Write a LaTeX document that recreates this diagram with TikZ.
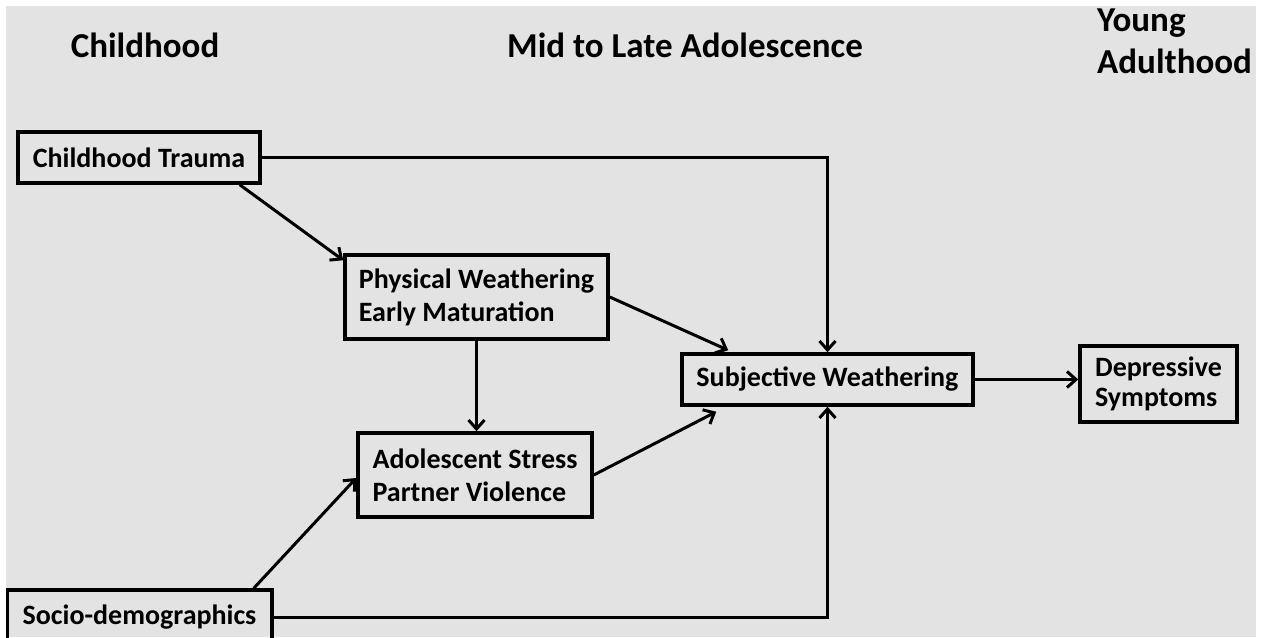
\documentclass[tikz,border=0pt]{standalone}
\usepackage{fontspec}
\setmainfont{Carlito}
\usetikzlibrary{arrows.meta}
\definecolor{bg}{HTML}{E3E3E3}
\begin{document}
\begin{tikzpicture}[x=1pt,y=-1pt,
  box/.style={draw=black,line width=3.5pt,inner sep=0pt,align=left,
    font=\bfseries\fontsize{28}{33}\selectfont},
  head/.style={font=\bfseries\fontsize{35}{42}\selectfont,inner sep=0pt},
  conn/.style={line width=3pt,-{Straight Barb[length=9pt,width=16pt,line width=3pt]}},
  plain/.style={line width=3pt}]
\useasboundingbox (0,0) rectangle (1265,637);
\fill[white] (0,0) rectangle (1265,637);
\fill[bg] (6,6) rectangle (1256,637);
\begin{scope}
\clip (6,6) rectangle (1256,637);
\node[head] (h1) at (145,45) {Childhood};
\node[head] (h2) at (685,45) {Mid to Late Adolescence};
\node[head,anchor=west,align=left] (h3) at (1097,41) {Young\\Adulthood};

\node[box,minimum width=242pt,minimum height=51pt] (ct) at (139,157.5) {Childhood Trauma};
\node[box,minimum width=265pt,minimum height=54pt] (soc) at (139.5,617) {Socio-demographics};
\node[box,minimum width=263pt,minimum height=84pt] (phys) at (476.5,297) {Physical Weathering\\Early Maturation};
\node[box,minimum width=234pt,minimum height=84pt] (adol) at (475,475) {Adolescent Stress\\Partner Violence};
\node[box,minimum width=291pt,minimum height=51pt] (subj) at (827.5,379.5) {Subjective Weathering};
\node[box,minimum width=157pt,minimum height=76pt,font=\bfseries\fontsize{28}{30}\selectfont] (dep) at (1158.5,384) {Depressive\\Symptoms};

\draw[conn] (ct.east) -| (subj.north);
\draw[conn] (soc.east) -| (subj.south);
\draw[conn] ([xshift=-22pt]ct.south east) -- ([yshift=-7pt]phys.north west);
\draw[conn] (phys.east) -- ([xshift=48pt,yshift=2pt]subj.north west);
\draw[conn] (phys.south) -- (phys.south |- adol.north);
\draw[conn] ([xshift=-20pt]soc.north east) -- ([yshift=-3pt]adol.west);
\draw[conn] (adol.east) -- ([xshift=36pt,yshift=-5pt]subj.south west);
\draw[conn] (subj.east) -- (subj.east -| dep.west);
\end{scope}
\end{tikzpicture}
\end{document}
